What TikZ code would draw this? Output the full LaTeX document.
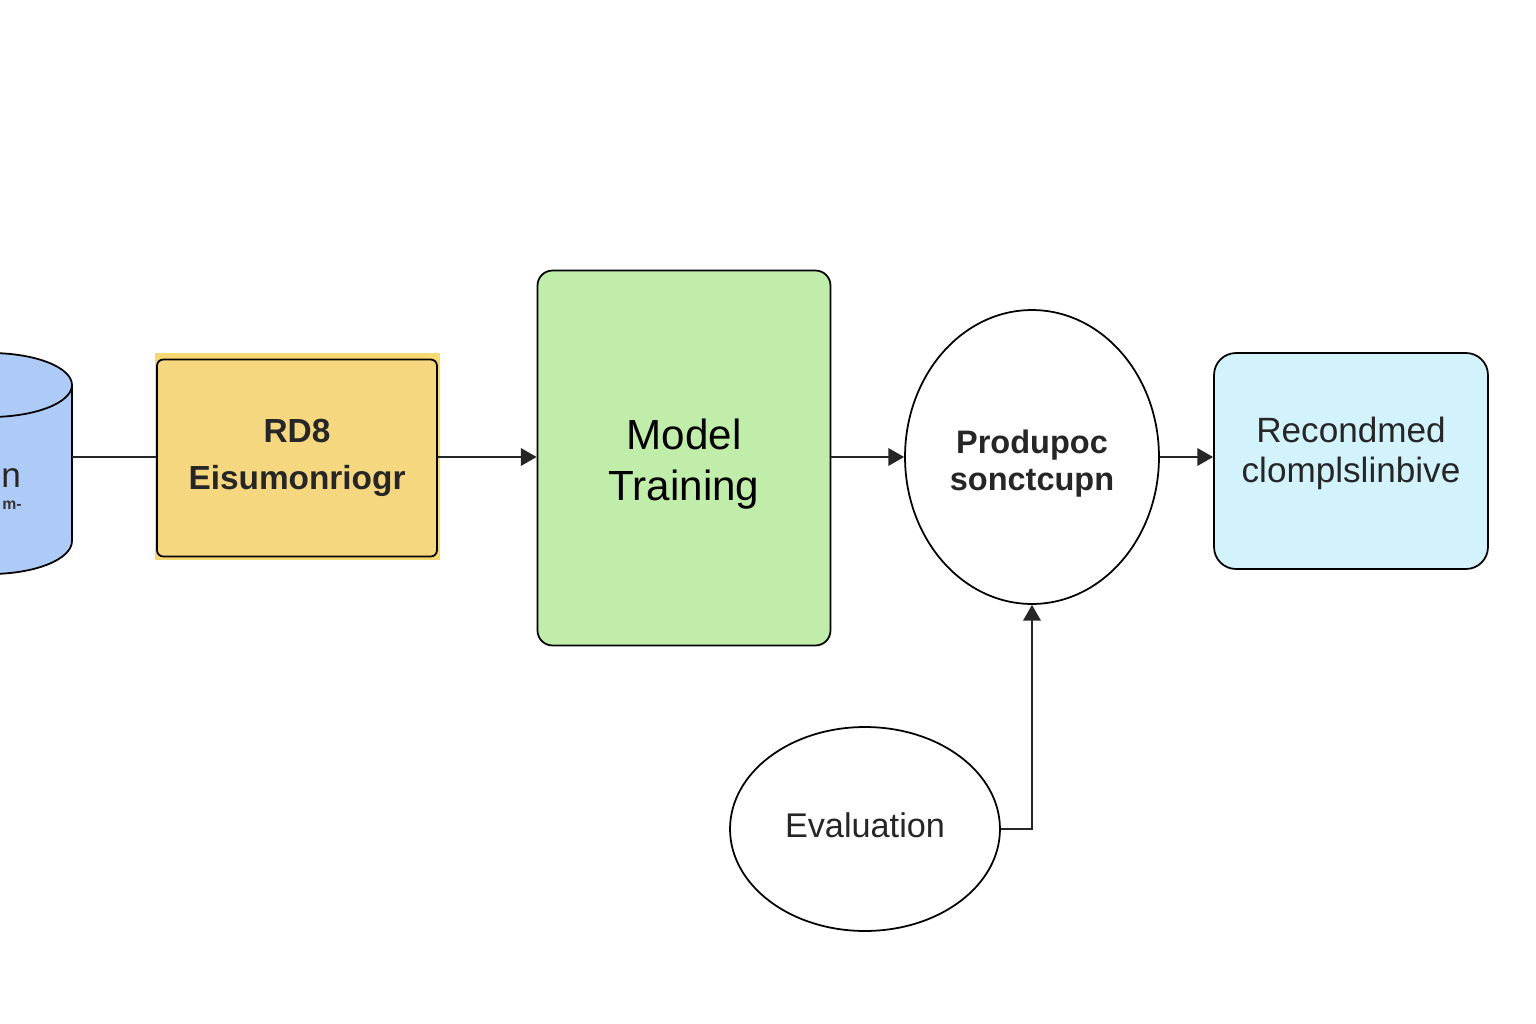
\documentclass[tikz,border=0pt]{standalone}
\usepackage{fontspec}
\setmainfont{Liberation Sans}
\usepackage{xcolor}
\usetikzlibrary{shapes,arrows,positioning,calc,arrows.meta}
\definecolor{dbblue}{HTML}{AECBF7}
\definecolor{prepyel}{HTML}{F5D77F}
\definecolor{prepbg}{HTML}{F8D870}
\definecolor{traingreen}{HTML}{C1EDAA}
\definecolor{recblue}{HTML}{D3F3FC}

\begin{document}
\begin{tikzpicture}[x=0.02cm, y=-0.02cm,
    box/.style={draw=black, line width=1pt, align=center, inner sep=0pt},
    oval/.style={ellipse, draw=black, line width=1pt, align=center, inner sep=0pt},
    plainline/.style={draw=black!85, line width=1pt},
    link/.style={draw=black!85, line width=1pt, -{Triangle[length=9pt, width=10pt]}}]
    \useasboundingbox (0,0) rectangle (1536,1024);
    \fill[white] (0,0) rectangle (1536,1024);

    % data store, cut off at the left edge
    \filldraw[fill=dbblue, line width=1pt] (-92,385) arc[start angle=180, end angle=360, x radius=82, y radius=32]
        -- (72,541) arc[start angle=0, end angle=180, x radius=82, y radius=33] -- cycle;
    \draw[line width=1pt] (-92,385) arc[start angle=180, end angle=0, x radius=82, y radius=32];
    \node[anchor=west, inner sep=0pt, font=\fontsize{20}{24}\selectfont, text=black!85] (datatext) at (1,478) {n};
    \node[anchor=west, inner sep=0pt, font=\bfseries\fontsize{9}{10}\selectfont, text=black!80] (datasub) at (2,505) {m-};
    \coordinate (data) at (72,457);

    % preprocessing
    \fill[prepbg] (155,353) rectangle (440,560);
    \node[box, fill=prepyel, rounded corners=3.5pt, minimum width=5.6cm, minimum height=3.94cm,
          font=\bfseries\fontsize{19}{27}\selectfont, text=black!85] (prep) at (297,458) {RD8\\Eisumonriogr};

    % training
    \node[box, fill=traingreen, rounded corners=8.5pt, minimum width=5.86cm, minimum height=7.5cm,
          font=\fontsize{24}{29.5}\selectfont] (train) at (684,458) {\rule{0pt}{24.3pt}Model\\Training};

    % prediction
    \node[oval, fill=white, minimum width=5.08cm, minimum height=5.88cm,
          font=\bfseries\fontsize{18.5}{21}\selectfont, text=black!85] (pred) at (1032,457) {\rule{0pt}{21pt}Produpoc\\sonctcupn};

    % recommendation
    \node[box, fill=recblue, rounded corners=12.5pt, minimum width=5.48cm, minimum height=4.32cm,
          font=\fontsize{20}{22.7}\selectfont, text=black!85] (rec) at (1351,461) {Recondmed\\clomplslinbive\rule[-0.44cm]{0pt}{0pt}};

    % evaluation
    \node[oval, fill=white, minimum width=5.4cm, minimum height=4.08cm,
          font=\fontsize{19.5}{22}\selectfont, text=black!85] (eval) at (865,829) {Evaluation\rule[-0.15cm]{0pt}{0pt}};

    \draw[plainline] (data) -- (prep.west |- data);
    \draw[link] (prep.east |- data) -- (train.west |- data);
    \draw[link] (train.east |- data) -- (pred.west);
    \draw[link] (pred.east) -- (rec.west |- pred.east);
    \draw[link] (eval.east) -| (pred.south);
\end{tikzpicture}
\end{document}
